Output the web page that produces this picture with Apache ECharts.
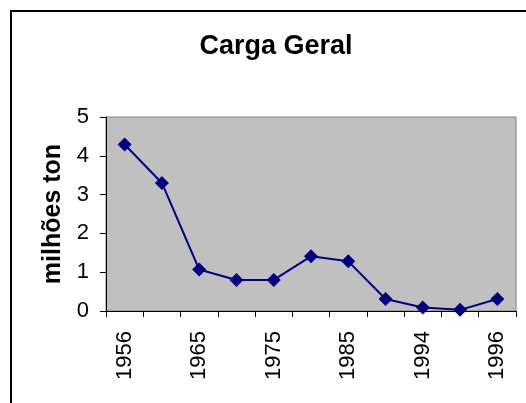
<!DOCTYPE html>
<html><head><meta charset="utf-8">
<script src="https://cdn.jsdelivr.net/npm/echarts@6/dist/echarts.min.js"></script>
<style>html,body{margin:0;padding:0;background:#fff}#c{width:526px;height:403px}</style>
</head><body><div id="c"></div>
<script>
const categories = ['1956','1960','1965','1970','1975','1980','1985','1990','1994','1995','1996'];
const values = [4.29, 3.30, 1.07, 0.80, 0.80, 1.41, 1.28, 0.31, 0.09, 0.03, 0.31];
const yTicks = [0, 1, 2, 3, 4, 5];
const titleText = 'Carga Geral';
const yName = 'milhões ton';

const chart = echarts.init(document.getElementById('c'));
chart.setOption({
  animation: false,
  backgroundColor: '#fff',
  title: {
    text: titleText, left: 271, top: 28, textAlign: 'center',
    textStyle: {fontFamily: 'Liberation Sans, Arial', fontWeight: 'bold', fontSize: 27, color: '#000'}
  },
  graphic: [{
    type: 'rect', shape: {x: 11, y: 11, width: 540, height: 420},
    style: {fill: 'none', stroke: '#000', lineWidth: 2}, silent: true
  }],
  grid: {left: 106, right: 10, top: 117, bottom: 92, show: true,
    backgroundColor: '#c0c0c0', borderColor: '#808080', borderWidth: 1},
  xAxis: {
    type: 'category', data: categories, boundaryGap: true,
    axisLine: {lineStyle: {color: '#000', width: 1}},
    axisTick: {show: true, interval: 0, length: 6, lineStyle: {color: '#000'}},
    axisLabel: {interval: 1, rotate: 90, margin: 20, fontSize: 22,
      fontFamily: 'Liberation Sans, Arial', color: '#000'},
    splitLine: {show: false}
  },
  yAxis: {
    type: 'value', min: yTicks[0], max: yTicks[yTicks.length - 1], interval: 1,
    name: yName, nameLocation: 'middle', nameGap: 38, nameRotate: 90,
    nameTextStyle: {fontFamily: 'Liberation Sans, Arial', fontWeight: 'bold', fontSize: 25, color: '#000'},
    axisLine: {show: true, lineStyle: {color: '#000', width: 1}},
    axisTick: {show: true, length: 6, lineStyle: {color: '#000'}},
    axisLabel: {fontSize: 22, margin: 17, fontFamily: 'Liberation Sans, Arial', color: '#000'},
    splitLine: {show: false}
  },
  series: [{
    type: 'line', data: values, symbol: 'diamond', symbolSize: 14,
    lineStyle: {color: '#000080', width: 2},
    itemStyle: {color: '#000080'}
  }]
});
</script></body></html>
